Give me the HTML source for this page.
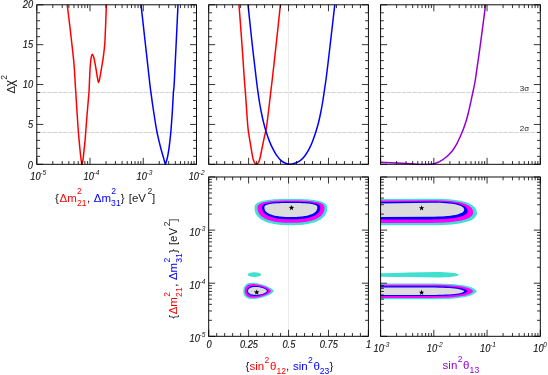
<!DOCTYPE html>
<html><head><meta charset="utf-8"><title>chart</title>
<style>
html,body{margin:0;padding:0;background:#fff;}
body{width:548px;height:375px;overflow:hidden;}
svg{display:block;will-change:transform;font-family:"Liberation Sans",sans-serif;}
.f{fill:none;stroke:#000;stroke-width:0.95;}
.t{stroke:#000;stroke-width:0.8;}
.s{stroke:#cfcfcf;stroke-width:0.9;stroke-dasharray:4.4 0.7 4.4 1.2;}
.v{stroke:#ebebeb;stroke-width:1;}
.l{font-size:9.3px;font-style:italic;fill:#111;stroke:#111;stroke-width:0.1;}
.e{font-size:6.6px;font-style:italic;fill:#111;}
.g{font-size:8px;fill:#222;}
</style></head><body>
<svg width="548" height="375" viewBox="0 0 548 375">
<defs><clipPath id="cT"><rect x="0" y="4.8" width="548" height="160.4"/></clipPath></defs>
<rect width="548" height="375" fill="#fff"/>
<line class="s" x1="36.80" y1="92.50" x2="196.50" y2="92.50"/>
<line class="s" x1="36.80" y1="132.50" x2="196.50" y2="132.50"/>
<line class="s" x1="208.70" y1="92.50" x2="368.40" y2="92.50"/>
<line class="s" x1="208.70" y1="132.50" x2="368.40" y2="132.50"/>
<line class="s" x1="380.60" y1="92.50" x2="540.30" y2="92.50"/>
<line class="s" x1="380.60" y1="132.50" x2="540.30" y2="132.50"/>
<line class="v" x1="288.50" y1="4.80" x2="288.50" y2="164.30"/>
<line class="v" x1="288.50" y1="177.00" x2="288.50" y2="336.30"/>
<path d="M254.60 207.80L254.64 206.80L254.75 206.13L254.93 205.55L255.19 205.02L255.52 204.53L255.92 204.07L256.40 203.64L256.95 203.23L257.57 202.84L258.26 202.47L259.03 202.13L259.87 201.80L260.78 201.48L261.76 201.19L262.81 200.92L263.93 200.66L265.13 200.42L266.40 200.19L267.74 199.99L269.16 199.80L270.65 199.63L272.23 199.48L273.90 199.34L275.66 199.22L277.53 199.13L279.53 199.04L281.68 198.98L284.05 198.94L286.77 198.91L290.85 198.90L294.93 198.91L297.65 198.94L300.02 198.98L302.17 199.04L304.17 199.13L306.04 199.22L307.80 199.34L309.47 199.48L311.05 199.63L312.54 199.80L313.96 199.99L315.30 200.19L316.57 200.42L317.77 200.66L318.89 200.92L319.94 201.19L320.92 201.48L321.83 201.80L322.67 202.13L323.44 202.47L324.13 202.84L324.75 203.23L325.30 203.64L325.78 204.07L326.18 204.53L326.51 205.02L326.77 205.55L326.95 206.13L327.06 206.80L327.10 207.80L327.06 209.29L326.93 210.45L326.73 211.51L326.44 212.50L326.07 213.44L325.62 214.34L325.08 215.20L324.47 216.02L323.78 216.81L323.01 217.57L322.16 218.29L321.23 218.97L320.23 219.63L319.16 220.25L318.01 220.84L316.79 221.39L315.49 221.90L314.13 222.38L312.70 222.83L311.19 223.23L309.62 223.60L307.98 223.94L306.26 224.23L304.47 224.49L302.60 224.70L300.64 224.88L298.58 225.02L296.37 225.12L293.95 225.18L290.85 225.20L287.75 225.18L285.33 225.12L283.12 225.02L281.06 224.88L279.10 224.70L277.23 224.49L275.44 224.23L273.72 223.94L272.08 223.60L270.51 223.23L269.00 222.83L267.57 222.38L266.21 221.90L264.91 221.39L263.69 220.84L262.54 220.25L261.47 219.63L260.47 218.97L259.54 218.29L258.69 217.57L257.92 216.81L257.23 216.02L256.62 215.20L256.08 214.34L255.63 213.44L255.26 212.50L254.97 211.51L254.77 210.45L254.64 209.29Z" fill="#40e0d0" />
<path d="M257.50 207.60L257.53 206.80L257.64 206.27L257.81 205.80L258.04 205.38L258.35 204.99L258.72 204.63L259.16 204.28L259.67 203.95L260.24 203.64L260.88 203.35L261.59 203.07L262.36 202.81L263.20 202.56L264.10 202.33L265.07 202.11L266.11 201.90L267.21 201.71L268.38 201.53L269.62 201.37L270.93 201.22L272.31 201.08L273.77 200.96L275.31 200.85L276.93 200.76L278.66 200.68L280.50 200.62L282.49 200.56L284.67 200.53L287.19 200.51L290.95 200.50L294.71 200.51L297.23 200.53L299.41 200.56L301.40 200.62L303.24 200.68L304.97 200.76L306.59 200.85L308.13 200.96L309.59 201.08L310.97 201.22L312.28 201.37L313.52 201.53L314.69 201.71L315.79 201.90L316.83 202.11L317.80 202.33L318.70 202.56L319.54 202.81L320.31 203.07L321.02 203.35L321.66 203.64L322.23 203.95L322.74 204.28L323.18 204.63L323.55 204.99L323.86 205.38L324.09 205.80L324.26 206.27L324.37 206.80L324.40 207.60L324.36 208.90L324.25 209.91L324.06 210.84L323.79 211.71L323.45 212.53L323.03 213.31L322.54 214.06L321.97 214.78L321.33 215.47L320.62 216.13L319.84 216.76L318.98 217.36L318.06 217.93L317.07 218.48L316.01 218.99L314.88 219.47L313.69 219.92L312.43 220.34L311.11 220.73L309.72 221.08L308.27 221.41L306.76 221.70L305.17 221.95L303.52 222.18L301.79 222.37L299.99 222.52L298.08 222.64L296.04 222.73L293.81 222.78L290.95 222.80L288.09 222.78L285.86 222.73L283.82 222.64L281.91 222.52L280.11 222.37L278.38 222.18L276.73 221.95L275.14 221.70L273.63 221.41L272.18 221.08L270.79 220.73L269.47 220.34L268.21 219.92L267.02 219.47L265.89 218.99L264.83 218.48L263.84 217.93L262.92 217.36L262.06 216.76L261.28 216.13L260.57 215.47L259.93 214.78L259.36 214.06L258.87 213.31L258.45 212.53L258.11 211.71L257.84 210.84L257.65 209.91L257.54 208.90Z" fill="#ff00ff" />
<path d="M262.00 207.40L262.03 206.77L262.12 206.35L262.27 205.98L262.47 205.65L262.74 205.34L263.06 205.05L263.44 204.78L263.89 204.52L264.38 204.28L264.94 204.05L265.56 203.83L266.23 203.62L266.96 203.43L267.74 203.24L268.59 203.07L269.49 202.91L270.45 202.75L271.47 202.61L272.55 202.48L273.69 202.37L274.89 202.26L276.16 202.16L277.49 202.08L278.91 202.00L280.41 201.94L282.01 201.89L283.74 201.85L285.64 201.82L287.83 201.81L291.10 201.80L294.37 201.81L296.56 201.82L298.46 201.85L300.19 201.89L301.79 201.94L303.29 202.00L304.71 202.08L306.04 202.16L307.31 202.26L308.51 202.37L309.65 202.48L310.73 202.61L311.75 202.75L312.71 202.91L313.61 203.07L314.46 203.24L315.24 203.43L315.97 203.62L316.64 203.83L317.26 204.05L317.82 204.28L318.31 204.52L318.76 204.78L319.14 205.05L319.46 205.34L319.73 205.65L319.93 205.98L320.08 206.35L320.17 206.77L320.20 207.40L320.17 208.42L320.07 209.21L319.90 209.94L319.67 210.61L319.37 211.26L319.01 211.87L318.58 212.46L318.09 213.02L317.53 213.56L316.91 214.08L316.23 214.57L315.49 215.04L314.69 215.49L313.82 215.91L312.90 216.31L311.92 216.69L310.88 217.04L309.79 217.37L308.64 217.68L307.43 217.96L306.17 218.21L304.85 218.44L303.47 218.64L302.04 218.81L300.53 218.96L298.96 219.08L297.30 219.18L295.53 219.25L293.59 219.29L291.10 219.30L288.61 219.29L286.67 219.25L284.90 219.18L283.24 219.08L281.67 218.96L280.16 218.81L278.73 218.64L277.35 218.44L276.03 218.21L274.77 217.96L273.56 217.68L272.41 217.37L271.32 217.04L270.28 216.69L269.30 216.31L268.38 215.91L267.51 215.49L266.71 215.04L265.97 214.57L265.29 214.08L264.67 213.56L264.11 213.02L263.62 212.46L263.19 211.87L262.83 211.26L262.53 210.61L262.30 209.94L262.13 209.21L262.03 208.42Z" fill="#0000ff" />
<path d="M264.40 207.30L264.43 206.82L264.51 206.49L264.64 206.21L264.83 205.96L265.07 205.72L265.37 205.50L265.71 205.29L266.11 205.09L266.57 204.90L267.07 204.73L267.63 204.56L268.24 204.40L268.91 204.25L269.62 204.11L270.39 203.97L271.21 203.85L272.08 203.73L273.01 203.62L273.99 203.53L275.02 203.43L276.11 203.35L277.27 203.28L278.48 203.21L279.77 203.16L281.13 203.11L282.59 203.07L284.16 203.04L285.88 203.02L287.88 203.00L290.85 203.00L293.82 203.00L295.82 203.02L297.54 203.04L299.11 203.07L300.57 203.11L301.93 203.16L303.22 203.21L304.43 203.28L305.59 203.35L306.68 203.43L307.71 203.53L308.69 203.62L309.62 203.73L310.49 203.85L311.31 203.97L312.08 204.11L312.79 204.25L313.46 204.40L314.07 204.56L314.63 204.73L315.13 204.90L315.59 205.09L315.99 205.29L316.33 205.50L316.63 205.72L316.87 205.96L317.06 206.21L317.19 206.49L317.27 206.82L317.30 207.30L317.27 208.13L317.18 208.78L317.03 209.37L316.82 209.92L316.55 210.44L316.22 210.95L315.83 211.42L315.38 211.88L314.87 212.32L314.31 212.74L313.69 213.15L313.02 213.53L312.29 213.89L311.50 214.24L310.67 214.57L309.77 214.87L308.83 215.16L307.84 215.43L306.79 215.68L305.69 215.90L304.55 216.11L303.35 216.30L302.10 216.46L300.79 216.60L299.43 216.72L297.99 216.82L296.49 216.90L294.88 216.96L293.11 216.99L290.85 217.00L288.59 216.99L286.82 216.96L285.21 216.90L283.71 216.82L282.27 216.72L280.91 216.60L279.60 216.46L278.35 216.30L277.15 216.11L276.01 215.90L274.91 215.68L273.86 215.43L272.87 215.16L271.93 214.87L271.03 214.57L270.20 214.24L269.41 213.89L268.68 213.53L268.01 213.15L267.39 212.74L266.83 212.32L266.32 211.88L265.87 211.42L265.48 210.95L265.15 210.44L264.88 209.92L264.67 209.37L264.52 208.78L264.43 208.13Z" fill="#dcdcdc" />
<path d="M274.0 291.0 C270.5 286.49 260.95 282.8 251.5 282.8 C246.51999999999998 282.8 243.2 286.08 243.2 291.0 C243.2 295.86 246.51999999999998 299.1 251.5 299.1 C260.95 299.1 270.5 295.45500000000004 274.0 291.0Z" fill="#40e0d0" />
<path d="M271.4 291.0 C268.9 287.205 261.005 284.1 252.5 284.1 C247.88 284.1 244.8 286.86 244.8 291.0 C244.8 295.02 247.88 297.7 252.5 297.7 C261.005 297.7 268.9 294.685 271.4 291.0Z" fill="#ff00ff" />
<path d="M268.3 291.1 C266.8 288.35 261.15 286.1 254.0 286.1 C249.68 286.1 246.8 288.1 246.8 291.1 C246.8 294.04 249.68 296.0 254.0 296.0 C261.15 296.0 266.8 293.795 268.3 291.1Z" fill="#0000ff" />
<path d="M267.0 291.1 C266.2 288.90000000000003 261.24 287.1 255.0 287.1 C250.8 287.1 248.0 288.70000000000005 248.0 291.1 C248.0 293.38 250.8 294.9 255.0 294.9 C261.24 294.9 266.2 293.19 267.0 291.1Z" fill="#dcdcdc" />
<ellipse cx="254.4" cy="274.6" rx="6.7" ry="2.3" fill="#40e0d0"/>
<path d="M380.6 199.0 L435.0 198.7 C462.72 198.7 477.0 203.56199999999998 477.0 213.0 C477.0 221.052 462.04 225.2 433.0 225.2 L380.6 225.29Z" fill="#40e0d0" />
<path d="M380.6 200.6 L433.3 200.2 C459.7 200.2 473.3 204.314 473.3 212.3 C473.3 219.29600000000002 459.02000000000004 222.9 431.3 222.9 L380.6 223.02Z" fill="#ff00ff" />
<path d="M380.6 202.1 L431.6 201.6 C455.36 201.6 467.6 204.796 467.6 211.0 C467.6 216.544 454.68 219.4 429.6 219.4 L380.6 219.55Z" fill="#0000ff" />
<path d="M380.6 203.5 L432.2 202.7 C453.32 202.7 464.2 205.046 464.2 209.6 C464.2 214.352 452.64 216.8 430.2 216.8 L380.6 217.04000000000002Z" fill="#dcdcdc" />
<path d="M380.6 273.3 C400 273.0 418 272.0 436 272.0 C448 272.0 457.5 273.0 459.0 274.7 C457.5 276.5 448 277.5 436 277.5 C418 277.5 400 276.9 380.6 276.8Z" fill="#40e0d0" />
<path d="M380.6 283.5 L430.9 283.5 C462.17999999999995 283.5 473.67999999999995 286.464 476.9 291.3 C473.67999999999995 296.26 462.17999999999995 299.3 430.9 299.3 L380.6 299.3Z" fill="#40e0d0" />
<path d="M380.6 284.8 L430.2 284.8 C459.44 284.8 470.62 287.27000000000004 473.2 291.3 C470.62 295.392 459.44 297.9 430.2 297.9 L380.6 297.9Z" fill="#ff00ff" />
<path d="M380.6 286.2 L427.7 286.2 C454.9 286.2 465.7 288.138 467.7 291.3 C465.7 294.276 454.9 296.1 427.7 296.1 L380.6 296.1Z" fill="#0000ff" />
<path d="M380.6 287.4 L426.3 287.4 C452.14 287.4 462.78000000000003 288.882 464.3 291.3 C462.78000000000003 293.594 452.14 295.0 426.3 295.0 L380.6 295.0Z" fill="#dcdcdc" />
<polygon points="291.50,204.90 292.18,206.87 294.26,206.90 292.59,208.16 293.20,210.15 291.50,208.95 289.80,210.15 290.41,208.16 288.74,206.90 290.82,206.87" fill="#000"/>
<polygon points="256.70,289.40 257.38,291.37 259.46,291.40 257.79,292.66 258.40,294.65 256.70,293.45 255.00,294.65 255.61,292.66 253.94,291.40 256.02,291.37" fill="#000"/>
<polygon points="421.60,205.30 422.28,207.27 424.36,207.30 422.69,208.56 423.30,210.55 421.60,209.35 419.90,210.55 420.51,208.56 418.84,207.30 420.92,207.27" fill="#000"/>
<polygon points="421.60,289.70 422.28,291.67 424.36,291.70 422.69,292.96 423.30,294.95 421.60,293.75 419.90,294.95 420.51,292.96 418.84,291.70 420.92,291.67" fill="#000"/>
<g clip-path="url(#cT)">
<path d="M66.70 0.50C66.78 1.20 66.70 0.62 67.20 4.70C67.70 8.78 68.90 18.28 69.70 25.00C70.50 31.72 71.28 38.50 72.00 45.00C72.72 51.50 73.45 57.33 74.00 64.00C74.55 70.67 75.00 80.28 75.30 85.00C75.60 89.72 75.52 87.85 75.80 92.30C76.08 96.75 76.58 105.25 77.00 111.70C77.42 118.15 77.95 126.27 78.30 131.00C78.65 135.73 78.81 136.88 79.10 140.10C79.39 143.32 79.74 147.25 80.05 150.30C80.36 153.35 80.69 156.35 80.95 158.40C81.21 160.45 81.42 161.53 81.60 162.60C81.77 163.67 81.87 164.80 82.00 164.80C82.13 164.80 82.21 163.67 82.40 162.60C82.59 161.53 82.88 160.45 83.15 158.40C83.43 156.35 83.72 153.35 84.05 150.30C84.38 147.25 84.81 143.32 85.10 140.10C85.39 136.88 85.43 135.73 85.80 131.00C86.17 126.27 86.77 118.15 87.30 111.70C87.83 105.25 88.65 97.08 89.00 92.30C89.35 87.52 89.23 86.72 89.40 83.00C89.57 79.28 89.80 73.50 90.00 70.00C90.20 66.50 90.38 64.20 90.60 62.00C90.82 59.80 91.00 58.08 91.30 56.80C91.60 55.52 92.02 54.30 92.40 54.30C92.78 54.30 93.25 55.75 93.60 56.80C93.95 57.85 94.07 58.40 94.50 60.60C94.93 62.80 95.71 67.13 96.20 70.00C96.69 72.87 97.05 75.73 97.45 77.80C97.85 79.87 98.21 82.33 98.60 82.40C98.99 82.47 99.33 80.47 99.80 78.20C100.27 75.93 100.87 71.97 101.40 68.80C101.93 65.63 102.53 62.40 103.00 59.20C103.47 56.00 103.87 52.80 104.20 49.60C104.53 46.40 104.63 47.48 105.00 40.00C105.37 32.52 106.13 11.28 106.40 4.70C106.67 -1.88 106.57 1.20 106.60 0.50" fill="none" stroke="#ff0000" stroke-width="1.5" stroke-linejoin="round"/>
<path d="M140.50 0.50C140.58 1.20 140.17 -2.72 141.00 4.70C141.83 12.12 144.10 32.45 145.50 45.00C146.90 57.55 148.50 72.10 149.40 80.00C150.30 87.90 150.18 87.07 150.90 92.40C151.62 97.73 152.75 105.73 153.70 112.00C154.65 118.27 155.75 125.32 156.60 130.00C157.45 134.68 158.01 136.72 158.80 140.10C159.59 143.48 160.53 147.25 161.35 150.30C162.17 153.35 163.12 156.35 163.70 158.40C164.27 160.45 164.52 161.60 164.80 162.60C165.08 163.60 165.20 164.40 165.40 164.40C165.60 164.40 165.70 163.60 166.00 162.60C166.30 161.60 166.75 160.45 167.20 158.40C167.65 156.35 168.23 153.35 168.70 150.30C169.17 147.25 169.62 143.48 170.00 140.10C170.38 136.72 170.62 134.68 171.00 130.00C171.38 125.32 171.90 118.27 172.30 112.00C172.70 105.73 173.05 97.73 173.40 92.40C173.75 87.07 173.63 94.62 174.40 80.00C175.17 65.38 177.37 17.95 178.00 4.70C178.63 -8.55 178.17 1.20 178.20 0.50" fill="none" stroke="#0000ff" stroke-width="1.5" stroke-linejoin="round"/>
<path d="M238.70 0.50C238.75 1.20 238.45 -2.72 239.00 4.70C239.55 12.12 241.10 32.45 242.00 45.00C242.90 57.55 243.83 72.10 244.40 80.00C244.97 87.90 244.85 84.90 245.40 92.40C245.95 99.90 247.08 117.75 247.70 125.00C248.32 132.25 248.57 132.25 249.10 135.90C249.63 139.55 250.28 143.25 250.90 146.90C251.52 150.55 252.22 155.23 252.80 157.80C253.38 160.37 253.80 161.20 254.40 162.30C255.00 163.40 255.72 164.40 256.40 164.40C257.08 164.40 257.88 163.40 258.50 162.30C259.12 161.20 259.47 160.37 260.10 157.80C260.73 155.23 261.55 150.55 262.30 146.90C263.05 143.25 263.85 139.55 264.60 135.90C265.35 132.25 265.78 132.25 266.80 125.00C267.82 117.75 269.80 99.90 270.70 92.40C271.60 84.90 271.30 87.90 272.20 80.00C273.10 72.10 274.73 57.55 276.10 45.00C277.47 32.45 279.60 12.12 280.40 4.70C281.20 -2.72 280.82 1.20 280.90 0.50" fill="none" stroke="#ff0000" stroke-width="1.5" stroke-linejoin="round"/>
<path d="M247.50 0.50C247.58 1.20 247.20 -2.72 248.00 4.70C248.80 12.12 250.90 32.45 252.30 45.00C253.70 57.55 255.45 72.10 256.40 80.00C257.35 87.90 257.49 88.73 258.00 92.40C258.51 96.07 258.91 98.73 259.45 102.00C259.99 105.27 260.58 108.67 261.25 112.00C261.92 115.33 262.62 118.67 263.45 122.00C264.27 125.33 265.19 128.77 266.20 132.00C267.21 135.23 268.40 138.62 269.50 141.40C270.60 144.18 271.63 146.42 272.80 148.70C273.97 150.98 275.12 153.12 276.50 155.10C277.88 157.08 279.58 159.23 281.10 160.60C282.62 161.97 284.18 162.70 285.60 163.30C287.02 163.90 288.08 164.20 289.60 164.20C291.12 164.20 292.93 163.90 294.70 163.30C296.47 162.70 298.52 161.82 300.20 160.60C301.88 159.38 303.28 157.98 304.80 156.00C306.32 154.02 308.02 151.13 309.30 148.70C310.58 146.27 311.42 144.18 312.50 141.40C313.58 138.62 314.78 135.23 315.80 132.00C316.82 128.77 317.81 125.33 318.65 122.00C319.49 118.67 320.18 115.33 320.85 112.00C321.52 108.67 322.11 105.27 322.65 102.00C323.19 98.73 323.51 96.40 324.10 92.40C324.69 88.40 325.48 83.40 326.20 78.00C326.92 72.60 326.97 72.22 328.40 60.00C329.83 47.78 333.65 14.62 334.80 4.70C335.95 -5.22 335.22 1.20 335.30 0.50" fill="none" stroke="#0000ff" stroke-width="1.5" stroke-linejoin="round"/>
<path d="M380.50 162.30C383.22 162.42 391.68 162.75 396.80 163.00C401.92 163.25 407.00 163.55 411.20 163.80C415.40 164.05 419.20 164.38 422.00 164.50C424.80 164.62 426.00 164.63 428.00 164.50C430.00 164.37 432.00 164.23 434.00 163.70C436.00 163.17 438.00 162.38 440.00 161.30C442.00 160.22 444.00 158.88 446.00 157.20C448.00 155.52 450.20 153.43 452.00 151.20C453.80 148.97 455.38 146.33 456.80 143.80C458.22 141.27 459.37 138.55 460.50 136.00C461.63 133.45 462.65 131.03 463.60 128.50C464.55 125.97 465.42 123.38 466.20 120.80C466.98 118.22 467.65 115.60 468.30 113.00C468.95 110.40 469.33 108.70 470.10 105.20C470.87 101.70 472.03 96.20 472.90 92.00C473.77 87.80 474.07 87.83 475.30 80.00C476.53 72.17 478.58 57.55 480.30 45.00C482.02 32.45 484.63 12.12 485.60 4.70C486.57 -2.72 486.02 1.20 486.10 0.50" fill="none" stroke="#9400d3" stroke-width="1.5" stroke-linejoin="round"/>
</g>
<rect class="f" x="36.80" y="4.80" width="159.70" height="159.50"/>
<rect class="f" x="208.70" y="4.80" width="159.70" height="159.50"/>
<rect class="f" x="380.60" y="4.80" width="159.70" height="159.50"/>
<rect class="f" x="208.70" y="177.00" width="159.70" height="159.30"/>
<rect class="f" x="380.60" y="177.00" width="159.70" height="159.30"/>
<line class="t" x1="36.80" y1="164.30" x2="36.80" y2="157.80"/>
<line class="t" x1="36.80" y1="4.80" x2="36.80" y2="11.30"/>
<line class="t" x1="52.82" y1="164.30" x2="52.82" y2="161.00"/>
<line class="t" x1="52.82" y1="4.80" x2="52.82" y2="8.10"/>
<line class="t" x1="62.20" y1="164.30" x2="62.20" y2="161.00"/>
<line class="t" x1="62.20" y1="4.80" x2="62.20" y2="8.10"/>
<line class="t" x1="68.85" y1="164.30" x2="68.85" y2="161.00"/>
<line class="t" x1="68.85" y1="4.80" x2="68.85" y2="8.10"/>
<line class="t" x1="74.01" y1="164.30" x2="74.01" y2="161.00"/>
<line class="t" x1="74.01" y1="4.80" x2="74.01" y2="8.10"/>
<line class="t" x1="78.22" y1="164.30" x2="78.22" y2="161.00"/>
<line class="t" x1="78.22" y1="4.80" x2="78.22" y2="8.10"/>
<line class="t" x1="81.79" y1="164.30" x2="81.79" y2="161.00"/>
<line class="t" x1="81.79" y1="4.80" x2="81.79" y2="8.10"/>
<line class="t" x1="84.87" y1="164.30" x2="84.87" y2="161.00"/>
<line class="t" x1="84.87" y1="4.80" x2="84.87" y2="8.10"/>
<line class="t" x1="87.60" y1="164.30" x2="87.60" y2="161.00"/>
<line class="t" x1="87.60" y1="4.80" x2="87.60" y2="8.10"/>
<line class="t" x1="90.03" y1="164.30" x2="90.03" y2="157.80"/>
<line class="t" x1="90.03" y1="4.80" x2="90.03" y2="11.30"/>
<line class="t" x1="106.06" y1="164.30" x2="106.06" y2="161.00"/>
<line class="t" x1="106.06" y1="4.80" x2="106.06" y2="8.10"/>
<line class="t" x1="115.43" y1="164.30" x2="115.43" y2="161.00"/>
<line class="t" x1="115.43" y1="4.80" x2="115.43" y2="8.10"/>
<line class="t" x1="122.08" y1="164.30" x2="122.08" y2="161.00"/>
<line class="t" x1="122.08" y1="4.80" x2="122.08" y2="8.10"/>
<line class="t" x1="127.24" y1="164.30" x2="127.24" y2="161.00"/>
<line class="t" x1="127.24" y1="4.80" x2="127.24" y2="8.10"/>
<line class="t" x1="131.46" y1="164.30" x2="131.46" y2="161.00"/>
<line class="t" x1="131.46" y1="4.80" x2="131.46" y2="8.10"/>
<line class="t" x1="135.02" y1="164.30" x2="135.02" y2="161.00"/>
<line class="t" x1="135.02" y1="4.80" x2="135.02" y2="8.10"/>
<line class="t" x1="138.11" y1="164.30" x2="138.11" y2="161.00"/>
<line class="t" x1="138.11" y1="4.80" x2="138.11" y2="8.10"/>
<line class="t" x1="140.83" y1="164.30" x2="140.83" y2="161.00"/>
<line class="t" x1="140.83" y1="4.80" x2="140.83" y2="8.10"/>
<line class="t" x1="143.27" y1="164.30" x2="143.27" y2="157.80"/>
<line class="t" x1="143.27" y1="4.80" x2="143.27" y2="11.30"/>
<line class="t" x1="159.29" y1="164.30" x2="159.29" y2="161.00"/>
<line class="t" x1="159.29" y1="4.80" x2="159.29" y2="8.10"/>
<line class="t" x1="168.67" y1="164.30" x2="168.67" y2="161.00"/>
<line class="t" x1="168.67" y1="4.80" x2="168.67" y2="8.10"/>
<line class="t" x1="175.32" y1="164.30" x2="175.32" y2="161.00"/>
<line class="t" x1="175.32" y1="4.80" x2="175.32" y2="8.10"/>
<line class="t" x1="180.48" y1="164.30" x2="180.48" y2="161.00"/>
<line class="t" x1="180.48" y1="4.80" x2="180.48" y2="8.10"/>
<line class="t" x1="184.69" y1="164.30" x2="184.69" y2="161.00"/>
<line class="t" x1="184.69" y1="4.80" x2="184.69" y2="8.10"/>
<line class="t" x1="188.25" y1="164.30" x2="188.25" y2="161.00"/>
<line class="t" x1="188.25" y1="4.80" x2="188.25" y2="8.10"/>
<line class="t" x1="191.34" y1="164.30" x2="191.34" y2="161.00"/>
<line class="t" x1="191.34" y1="4.80" x2="191.34" y2="8.10"/>
<line class="t" x1="194.06" y1="164.30" x2="194.06" y2="161.00"/>
<line class="t" x1="194.06" y1="4.80" x2="194.06" y2="8.10"/>
<line class="t" x1="196.50" y1="164.30" x2="196.50" y2="157.80"/>
<line class="t" x1="196.50" y1="4.80" x2="196.50" y2="11.30"/>
<line class="t" x1="36.80" y1="164.30" x2="43.30" y2="164.30"/>
<line class="t" x1="196.50" y1="164.30" x2="190.00" y2="164.30"/>
<line class="t" x1="36.80" y1="156.33" x2="40.10" y2="156.33"/>
<line class="t" x1="196.50" y1="156.33" x2="193.20" y2="156.33"/>
<line class="t" x1="36.80" y1="148.35" x2="40.10" y2="148.35"/>
<line class="t" x1="196.50" y1="148.35" x2="193.20" y2="148.35"/>
<line class="t" x1="36.80" y1="140.38" x2="40.10" y2="140.38"/>
<line class="t" x1="196.50" y1="140.38" x2="193.20" y2="140.38"/>
<line class="t" x1="36.80" y1="132.40" x2="40.10" y2="132.40"/>
<line class="t" x1="196.50" y1="132.40" x2="193.20" y2="132.40"/>
<line class="t" x1="36.80" y1="124.43" x2="43.30" y2="124.43"/>
<line class="t" x1="196.50" y1="124.43" x2="190.00" y2="124.43"/>
<line class="t" x1="36.80" y1="116.45" x2="40.10" y2="116.45"/>
<line class="t" x1="196.50" y1="116.45" x2="193.20" y2="116.45"/>
<line class="t" x1="36.80" y1="108.48" x2="40.10" y2="108.48"/>
<line class="t" x1="196.50" y1="108.48" x2="193.20" y2="108.48"/>
<line class="t" x1="36.80" y1="100.50" x2="40.10" y2="100.50"/>
<line class="t" x1="196.50" y1="100.50" x2="193.20" y2="100.50"/>
<line class="t" x1="36.80" y1="92.53" x2="40.10" y2="92.53"/>
<line class="t" x1="196.50" y1="92.53" x2="193.20" y2="92.53"/>
<line class="t" x1="36.80" y1="84.55" x2="43.30" y2="84.55"/>
<line class="t" x1="196.50" y1="84.55" x2="190.00" y2="84.55"/>
<line class="t" x1="36.80" y1="76.58" x2="40.10" y2="76.58"/>
<line class="t" x1="196.50" y1="76.58" x2="193.20" y2="76.58"/>
<line class="t" x1="36.80" y1="68.60" x2="40.10" y2="68.60"/>
<line class="t" x1="196.50" y1="68.60" x2="193.20" y2="68.60"/>
<line class="t" x1="36.80" y1="60.63" x2="40.10" y2="60.63"/>
<line class="t" x1="196.50" y1="60.63" x2="193.20" y2="60.63"/>
<line class="t" x1="36.80" y1="52.65" x2="40.10" y2="52.65"/>
<line class="t" x1="196.50" y1="52.65" x2="193.20" y2="52.65"/>
<line class="t" x1="36.80" y1="44.68" x2="43.30" y2="44.68"/>
<line class="t" x1="196.50" y1="44.68" x2="190.00" y2="44.68"/>
<line class="t" x1="36.80" y1="36.70" x2="40.10" y2="36.70"/>
<line class="t" x1="196.50" y1="36.70" x2="193.20" y2="36.70"/>
<line class="t" x1="36.80" y1="28.73" x2="40.10" y2="28.73"/>
<line class="t" x1="196.50" y1="28.73" x2="193.20" y2="28.73"/>
<line class="t" x1="36.80" y1="20.75" x2="40.10" y2="20.75"/>
<line class="t" x1="196.50" y1="20.75" x2="193.20" y2="20.75"/>
<line class="t" x1="36.80" y1="12.78" x2="40.10" y2="12.78"/>
<line class="t" x1="196.50" y1="12.78" x2="193.20" y2="12.78"/>
<line class="t" x1="36.80" y1="4.80" x2="43.30" y2="4.80"/>
<line class="t" x1="196.50" y1="4.80" x2="190.00" y2="4.80"/>
<line class="t" x1="208.70" y1="164.30" x2="208.70" y2="157.80"/>
<line class="t" x1="208.70" y1="4.80" x2="208.70" y2="11.30"/>
<line class="t" x1="216.69" y1="164.30" x2="216.69" y2="161.00"/>
<line class="t" x1="216.69" y1="4.80" x2="216.69" y2="8.10"/>
<line class="t" x1="224.67" y1="164.30" x2="224.67" y2="161.00"/>
<line class="t" x1="224.67" y1="4.80" x2="224.67" y2="8.10"/>
<line class="t" x1="232.65" y1="164.30" x2="232.65" y2="161.00"/>
<line class="t" x1="232.65" y1="4.80" x2="232.65" y2="8.10"/>
<line class="t" x1="240.64" y1="164.30" x2="240.64" y2="161.00"/>
<line class="t" x1="240.64" y1="4.80" x2="240.64" y2="8.10"/>
<line class="t" x1="248.62" y1="164.30" x2="248.62" y2="157.80"/>
<line class="t" x1="248.62" y1="4.80" x2="248.62" y2="11.30"/>
<line class="t" x1="256.61" y1="164.30" x2="256.61" y2="161.00"/>
<line class="t" x1="256.61" y1="4.80" x2="256.61" y2="8.10"/>
<line class="t" x1="264.59" y1="164.30" x2="264.59" y2="161.00"/>
<line class="t" x1="264.59" y1="4.80" x2="264.59" y2="8.10"/>
<line class="t" x1="272.58" y1="164.30" x2="272.58" y2="161.00"/>
<line class="t" x1="272.58" y1="4.80" x2="272.58" y2="8.10"/>
<line class="t" x1="280.56" y1="164.30" x2="280.56" y2="161.00"/>
<line class="t" x1="280.56" y1="4.80" x2="280.56" y2="8.10"/>
<line class="t" x1="288.55" y1="164.30" x2="288.55" y2="157.80"/>
<line class="t" x1="288.55" y1="4.80" x2="288.55" y2="11.30"/>
<line class="t" x1="296.53" y1="164.30" x2="296.53" y2="161.00"/>
<line class="t" x1="296.53" y1="4.80" x2="296.53" y2="8.10"/>
<line class="t" x1="304.52" y1="164.30" x2="304.52" y2="161.00"/>
<line class="t" x1="304.52" y1="4.80" x2="304.52" y2="8.10"/>
<line class="t" x1="312.50" y1="164.30" x2="312.50" y2="161.00"/>
<line class="t" x1="312.50" y1="4.80" x2="312.50" y2="8.10"/>
<line class="t" x1="320.49" y1="164.30" x2="320.49" y2="161.00"/>
<line class="t" x1="320.49" y1="4.80" x2="320.49" y2="8.10"/>
<line class="t" x1="328.47" y1="164.30" x2="328.47" y2="157.80"/>
<line class="t" x1="328.47" y1="4.80" x2="328.47" y2="11.30"/>
<line class="t" x1="336.46" y1="164.30" x2="336.46" y2="161.00"/>
<line class="t" x1="336.46" y1="4.80" x2="336.46" y2="8.10"/>
<line class="t" x1="344.44" y1="164.30" x2="344.44" y2="161.00"/>
<line class="t" x1="344.44" y1="4.80" x2="344.44" y2="8.10"/>
<line class="t" x1="352.43" y1="164.30" x2="352.43" y2="161.00"/>
<line class="t" x1="352.43" y1="4.80" x2="352.43" y2="8.10"/>
<line class="t" x1="360.41" y1="164.30" x2="360.41" y2="161.00"/>
<line class="t" x1="360.41" y1="4.80" x2="360.41" y2="8.10"/>
<line class="t" x1="368.40" y1="164.30" x2="368.40" y2="157.80"/>
<line class="t" x1="368.40" y1="4.80" x2="368.40" y2="11.30"/>
<line class="t" x1="208.70" y1="164.30" x2="215.20" y2="164.30"/>
<line class="t" x1="368.40" y1="164.30" x2="361.90" y2="164.30"/>
<line class="t" x1="208.70" y1="156.33" x2="212.00" y2="156.33"/>
<line class="t" x1="368.40" y1="156.33" x2="365.10" y2="156.33"/>
<line class="t" x1="208.70" y1="148.35" x2="212.00" y2="148.35"/>
<line class="t" x1="368.40" y1="148.35" x2="365.10" y2="148.35"/>
<line class="t" x1="208.70" y1="140.38" x2="212.00" y2="140.38"/>
<line class="t" x1="368.40" y1="140.38" x2="365.10" y2="140.38"/>
<line class="t" x1="208.70" y1="132.40" x2="212.00" y2="132.40"/>
<line class="t" x1="368.40" y1="132.40" x2="365.10" y2="132.40"/>
<line class="t" x1="208.70" y1="124.43" x2="215.20" y2="124.43"/>
<line class="t" x1="368.40" y1="124.43" x2="361.90" y2="124.43"/>
<line class="t" x1="208.70" y1="116.45" x2="212.00" y2="116.45"/>
<line class="t" x1="368.40" y1="116.45" x2="365.10" y2="116.45"/>
<line class="t" x1="208.70" y1="108.48" x2="212.00" y2="108.48"/>
<line class="t" x1="368.40" y1="108.48" x2="365.10" y2="108.48"/>
<line class="t" x1="208.70" y1="100.50" x2="212.00" y2="100.50"/>
<line class="t" x1="368.40" y1="100.50" x2="365.10" y2="100.50"/>
<line class="t" x1="208.70" y1="92.53" x2="212.00" y2="92.53"/>
<line class="t" x1="368.40" y1="92.53" x2="365.10" y2="92.53"/>
<line class="t" x1="208.70" y1="84.55" x2="215.20" y2="84.55"/>
<line class="t" x1="368.40" y1="84.55" x2="361.90" y2="84.55"/>
<line class="t" x1="208.70" y1="76.58" x2="212.00" y2="76.58"/>
<line class="t" x1="368.40" y1="76.58" x2="365.10" y2="76.58"/>
<line class="t" x1="208.70" y1="68.60" x2="212.00" y2="68.60"/>
<line class="t" x1="368.40" y1="68.60" x2="365.10" y2="68.60"/>
<line class="t" x1="208.70" y1="60.63" x2="212.00" y2="60.63"/>
<line class="t" x1="368.40" y1="60.63" x2="365.10" y2="60.63"/>
<line class="t" x1="208.70" y1="52.65" x2="212.00" y2="52.65"/>
<line class="t" x1="368.40" y1="52.65" x2="365.10" y2="52.65"/>
<line class="t" x1="208.70" y1="44.68" x2="215.20" y2="44.68"/>
<line class="t" x1="368.40" y1="44.68" x2="361.90" y2="44.68"/>
<line class="t" x1="208.70" y1="36.70" x2="212.00" y2="36.70"/>
<line class="t" x1="368.40" y1="36.70" x2="365.10" y2="36.70"/>
<line class="t" x1="208.70" y1="28.73" x2="212.00" y2="28.73"/>
<line class="t" x1="368.40" y1="28.73" x2="365.10" y2="28.73"/>
<line class="t" x1="208.70" y1="20.75" x2="212.00" y2="20.75"/>
<line class="t" x1="368.40" y1="20.75" x2="365.10" y2="20.75"/>
<line class="t" x1="208.70" y1="12.78" x2="212.00" y2="12.78"/>
<line class="t" x1="368.40" y1="12.78" x2="365.10" y2="12.78"/>
<line class="t" x1="208.70" y1="4.80" x2="215.20" y2="4.80"/>
<line class="t" x1="368.40" y1="4.80" x2="361.90" y2="4.80"/>
<line class="t" x1="380.60" y1="164.30" x2="380.60" y2="157.80"/>
<line class="t" x1="380.60" y1="4.80" x2="380.60" y2="11.30"/>
<line class="t" x1="396.62" y1="164.30" x2="396.62" y2="161.00"/>
<line class="t" x1="396.62" y1="4.80" x2="396.62" y2="8.10"/>
<line class="t" x1="406.00" y1="164.30" x2="406.00" y2="161.00"/>
<line class="t" x1="406.00" y1="4.80" x2="406.00" y2="8.10"/>
<line class="t" x1="412.65" y1="164.30" x2="412.65" y2="161.00"/>
<line class="t" x1="412.65" y1="4.80" x2="412.65" y2="8.10"/>
<line class="t" x1="417.81" y1="164.30" x2="417.81" y2="161.00"/>
<line class="t" x1="417.81" y1="4.80" x2="417.81" y2="8.10"/>
<line class="t" x1="422.02" y1="164.30" x2="422.02" y2="161.00"/>
<line class="t" x1="422.02" y1="4.80" x2="422.02" y2="8.10"/>
<line class="t" x1="425.59" y1="164.30" x2="425.59" y2="161.00"/>
<line class="t" x1="425.59" y1="4.80" x2="425.59" y2="8.10"/>
<line class="t" x1="428.67" y1="164.30" x2="428.67" y2="161.00"/>
<line class="t" x1="428.67" y1="4.80" x2="428.67" y2="8.10"/>
<line class="t" x1="431.40" y1="164.30" x2="431.40" y2="161.00"/>
<line class="t" x1="431.40" y1="4.80" x2="431.40" y2="8.10"/>
<line class="t" x1="433.83" y1="164.30" x2="433.83" y2="157.80"/>
<line class="t" x1="433.83" y1="4.80" x2="433.83" y2="11.30"/>
<line class="t" x1="449.86" y1="164.30" x2="449.86" y2="161.00"/>
<line class="t" x1="449.86" y1="4.80" x2="449.86" y2="8.10"/>
<line class="t" x1="459.23" y1="164.30" x2="459.23" y2="161.00"/>
<line class="t" x1="459.23" y1="4.80" x2="459.23" y2="8.10"/>
<line class="t" x1="465.88" y1="164.30" x2="465.88" y2="161.00"/>
<line class="t" x1="465.88" y1="4.80" x2="465.88" y2="8.10"/>
<line class="t" x1="471.04" y1="164.30" x2="471.04" y2="161.00"/>
<line class="t" x1="471.04" y1="4.80" x2="471.04" y2="8.10"/>
<line class="t" x1="475.26" y1="164.30" x2="475.26" y2="161.00"/>
<line class="t" x1="475.26" y1="4.80" x2="475.26" y2="8.10"/>
<line class="t" x1="478.82" y1="164.30" x2="478.82" y2="161.00"/>
<line class="t" x1="478.82" y1="4.80" x2="478.82" y2="8.10"/>
<line class="t" x1="481.91" y1="164.30" x2="481.91" y2="161.00"/>
<line class="t" x1="481.91" y1="4.80" x2="481.91" y2="8.10"/>
<line class="t" x1="484.63" y1="164.30" x2="484.63" y2="161.00"/>
<line class="t" x1="484.63" y1="4.80" x2="484.63" y2="8.10"/>
<line class="t" x1="487.07" y1="164.30" x2="487.07" y2="157.80"/>
<line class="t" x1="487.07" y1="4.80" x2="487.07" y2="11.30"/>
<line class="t" x1="503.09" y1="164.30" x2="503.09" y2="161.00"/>
<line class="t" x1="503.09" y1="4.80" x2="503.09" y2="8.10"/>
<line class="t" x1="512.47" y1="164.30" x2="512.47" y2="161.00"/>
<line class="t" x1="512.47" y1="4.80" x2="512.47" y2="8.10"/>
<line class="t" x1="519.12" y1="164.30" x2="519.12" y2="161.00"/>
<line class="t" x1="519.12" y1="4.80" x2="519.12" y2="8.10"/>
<line class="t" x1="524.28" y1="164.30" x2="524.28" y2="161.00"/>
<line class="t" x1="524.28" y1="4.80" x2="524.28" y2="8.10"/>
<line class="t" x1="528.49" y1="164.30" x2="528.49" y2="161.00"/>
<line class="t" x1="528.49" y1="4.80" x2="528.49" y2="8.10"/>
<line class="t" x1="532.05" y1="164.30" x2="532.05" y2="161.00"/>
<line class="t" x1="532.05" y1="4.80" x2="532.05" y2="8.10"/>
<line class="t" x1="535.14" y1="164.30" x2="535.14" y2="161.00"/>
<line class="t" x1="535.14" y1="4.80" x2="535.14" y2="8.10"/>
<line class="t" x1="537.86" y1="164.30" x2="537.86" y2="161.00"/>
<line class="t" x1="537.86" y1="4.80" x2="537.86" y2="8.10"/>
<line class="t" x1="540.30" y1="164.30" x2="540.30" y2="157.80"/>
<line class="t" x1="540.30" y1="4.80" x2="540.30" y2="11.30"/>
<line class="t" x1="380.60" y1="164.30" x2="387.10" y2="164.30"/>
<line class="t" x1="540.30" y1="164.30" x2="533.80" y2="164.30"/>
<line class="t" x1="380.60" y1="156.33" x2="383.90" y2="156.33"/>
<line class="t" x1="540.30" y1="156.33" x2="537.00" y2="156.33"/>
<line class="t" x1="380.60" y1="148.35" x2="383.90" y2="148.35"/>
<line class="t" x1="540.30" y1="148.35" x2="537.00" y2="148.35"/>
<line class="t" x1="380.60" y1="140.38" x2="383.90" y2="140.38"/>
<line class="t" x1="540.30" y1="140.38" x2="537.00" y2="140.38"/>
<line class="t" x1="380.60" y1="132.40" x2="383.90" y2="132.40"/>
<line class="t" x1="540.30" y1="132.40" x2="537.00" y2="132.40"/>
<line class="t" x1="380.60" y1="124.43" x2="387.10" y2="124.43"/>
<line class="t" x1="540.30" y1="124.43" x2="533.80" y2="124.43"/>
<line class="t" x1="380.60" y1="116.45" x2="383.90" y2="116.45"/>
<line class="t" x1="540.30" y1="116.45" x2="537.00" y2="116.45"/>
<line class="t" x1="380.60" y1="108.48" x2="383.90" y2="108.48"/>
<line class="t" x1="540.30" y1="108.48" x2="537.00" y2="108.48"/>
<line class="t" x1="380.60" y1="100.50" x2="383.90" y2="100.50"/>
<line class="t" x1="540.30" y1="100.50" x2="537.00" y2="100.50"/>
<line class="t" x1="380.60" y1="92.53" x2="383.90" y2="92.53"/>
<line class="t" x1="540.30" y1="92.53" x2="537.00" y2="92.53"/>
<line class="t" x1="380.60" y1="84.55" x2="387.10" y2="84.55"/>
<line class="t" x1="540.30" y1="84.55" x2="533.80" y2="84.55"/>
<line class="t" x1="380.60" y1="76.58" x2="383.90" y2="76.58"/>
<line class="t" x1="540.30" y1="76.58" x2="537.00" y2="76.58"/>
<line class="t" x1="380.60" y1="68.60" x2="383.90" y2="68.60"/>
<line class="t" x1="540.30" y1="68.60" x2="537.00" y2="68.60"/>
<line class="t" x1="380.60" y1="60.63" x2="383.90" y2="60.63"/>
<line class="t" x1="540.30" y1="60.63" x2="537.00" y2="60.63"/>
<line class="t" x1="380.60" y1="52.65" x2="383.90" y2="52.65"/>
<line class="t" x1="540.30" y1="52.65" x2="537.00" y2="52.65"/>
<line class="t" x1="380.60" y1="44.68" x2="387.10" y2="44.68"/>
<line class="t" x1="540.30" y1="44.68" x2="533.80" y2="44.68"/>
<line class="t" x1="380.60" y1="36.70" x2="383.90" y2="36.70"/>
<line class="t" x1="540.30" y1="36.70" x2="537.00" y2="36.70"/>
<line class="t" x1="380.60" y1="28.73" x2="383.90" y2="28.73"/>
<line class="t" x1="540.30" y1="28.73" x2="537.00" y2="28.73"/>
<line class="t" x1="380.60" y1="20.75" x2="383.90" y2="20.75"/>
<line class="t" x1="540.30" y1="20.75" x2="537.00" y2="20.75"/>
<line class="t" x1="380.60" y1="12.78" x2="383.90" y2="12.78"/>
<line class="t" x1="540.30" y1="12.78" x2="537.00" y2="12.78"/>
<line class="t" x1="380.60" y1="4.80" x2="387.10" y2="4.80"/>
<line class="t" x1="540.30" y1="4.80" x2="533.80" y2="4.80"/>
<line class="t" x1="208.70" y1="336.30" x2="208.70" y2="329.80"/>
<line class="t" x1="208.70" y1="177.00" x2="208.70" y2="183.50"/>
<line class="t" x1="216.69" y1="336.30" x2="216.69" y2="333.00"/>
<line class="t" x1="216.69" y1="177.00" x2="216.69" y2="180.30"/>
<line class="t" x1="224.67" y1="336.30" x2="224.67" y2="333.00"/>
<line class="t" x1="224.67" y1="177.00" x2="224.67" y2="180.30"/>
<line class="t" x1="232.65" y1="336.30" x2="232.65" y2="333.00"/>
<line class="t" x1="232.65" y1="177.00" x2="232.65" y2="180.30"/>
<line class="t" x1="240.64" y1="336.30" x2="240.64" y2="333.00"/>
<line class="t" x1="240.64" y1="177.00" x2="240.64" y2="180.30"/>
<line class="t" x1="248.62" y1="336.30" x2="248.62" y2="329.80"/>
<line class="t" x1="248.62" y1="177.00" x2="248.62" y2="183.50"/>
<line class="t" x1="256.61" y1="336.30" x2="256.61" y2="333.00"/>
<line class="t" x1="256.61" y1="177.00" x2="256.61" y2="180.30"/>
<line class="t" x1="264.59" y1="336.30" x2="264.59" y2="333.00"/>
<line class="t" x1="264.59" y1="177.00" x2="264.59" y2="180.30"/>
<line class="t" x1="272.58" y1="336.30" x2="272.58" y2="333.00"/>
<line class="t" x1="272.58" y1="177.00" x2="272.58" y2="180.30"/>
<line class="t" x1="280.56" y1="336.30" x2="280.56" y2="333.00"/>
<line class="t" x1="280.56" y1="177.00" x2="280.56" y2="180.30"/>
<line class="t" x1="288.55" y1="336.30" x2="288.55" y2="329.80"/>
<line class="t" x1="288.55" y1="177.00" x2="288.55" y2="183.50"/>
<line class="t" x1="296.53" y1="336.30" x2="296.53" y2="333.00"/>
<line class="t" x1="296.53" y1="177.00" x2="296.53" y2="180.30"/>
<line class="t" x1="304.52" y1="336.30" x2="304.52" y2="333.00"/>
<line class="t" x1="304.52" y1="177.00" x2="304.52" y2="180.30"/>
<line class="t" x1="312.50" y1="336.30" x2="312.50" y2="333.00"/>
<line class="t" x1="312.50" y1="177.00" x2="312.50" y2="180.30"/>
<line class="t" x1="320.49" y1="336.30" x2="320.49" y2="333.00"/>
<line class="t" x1="320.49" y1="177.00" x2="320.49" y2="180.30"/>
<line class="t" x1="328.47" y1="336.30" x2="328.47" y2="329.80"/>
<line class="t" x1="328.47" y1="177.00" x2="328.47" y2="183.50"/>
<line class="t" x1="336.46" y1="336.30" x2="336.46" y2="333.00"/>
<line class="t" x1="336.46" y1="177.00" x2="336.46" y2="180.30"/>
<line class="t" x1="344.44" y1="336.30" x2="344.44" y2="333.00"/>
<line class="t" x1="344.44" y1="177.00" x2="344.44" y2="180.30"/>
<line class="t" x1="352.43" y1="336.30" x2="352.43" y2="333.00"/>
<line class="t" x1="352.43" y1="177.00" x2="352.43" y2="180.30"/>
<line class="t" x1="360.41" y1="336.30" x2="360.41" y2="333.00"/>
<line class="t" x1="360.41" y1="177.00" x2="360.41" y2="180.30"/>
<line class="t" x1="368.40" y1="336.30" x2="368.40" y2="329.80"/>
<line class="t" x1="368.40" y1="177.00" x2="368.40" y2="183.50"/>
<line class="t" x1="208.70" y1="336.30" x2="215.20" y2="336.30"/>
<line class="t" x1="368.40" y1="336.30" x2="361.90" y2="336.30"/>
<line class="t" x1="208.70" y1="320.32" x2="212.00" y2="320.32"/>
<line class="t" x1="368.40" y1="320.32" x2="365.10" y2="320.32"/>
<line class="t" x1="208.70" y1="310.96" x2="212.00" y2="310.96"/>
<line class="t" x1="368.40" y1="310.96" x2="365.10" y2="310.96"/>
<line class="t" x1="208.70" y1="304.33" x2="212.00" y2="304.33"/>
<line class="t" x1="368.40" y1="304.33" x2="365.10" y2="304.33"/>
<line class="t" x1="208.70" y1="299.18" x2="212.00" y2="299.18"/>
<line class="t" x1="368.40" y1="299.18" x2="365.10" y2="299.18"/>
<line class="t" x1="208.70" y1="294.98" x2="212.00" y2="294.98"/>
<line class="t" x1="368.40" y1="294.98" x2="365.10" y2="294.98"/>
<line class="t" x1="208.70" y1="291.43" x2="212.00" y2="291.43"/>
<line class="t" x1="368.40" y1="291.43" x2="365.10" y2="291.43"/>
<line class="t" x1="208.70" y1="288.35" x2="212.00" y2="288.35"/>
<line class="t" x1="368.40" y1="288.35" x2="365.10" y2="288.35"/>
<line class="t" x1="208.70" y1="285.63" x2="212.00" y2="285.63"/>
<line class="t" x1="368.40" y1="285.63" x2="365.10" y2="285.63"/>
<line class="t" x1="208.70" y1="283.20" x2="215.20" y2="283.20"/>
<line class="t" x1="368.40" y1="283.20" x2="361.90" y2="283.20"/>
<line class="t" x1="208.70" y1="267.22" x2="212.00" y2="267.22"/>
<line class="t" x1="368.40" y1="267.22" x2="365.10" y2="267.22"/>
<line class="t" x1="208.70" y1="257.86" x2="212.00" y2="257.86"/>
<line class="t" x1="368.40" y1="257.86" x2="365.10" y2="257.86"/>
<line class="t" x1="208.70" y1="251.23" x2="212.00" y2="251.23"/>
<line class="t" x1="368.40" y1="251.23" x2="365.10" y2="251.23"/>
<line class="t" x1="208.70" y1="246.08" x2="212.00" y2="246.08"/>
<line class="t" x1="368.40" y1="246.08" x2="365.10" y2="246.08"/>
<line class="t" x1="208.70" y1="241.88" x2="212.00" y2="241.88"/>
<line class="t" x1="368.40" y1="241.88" x2="365.10" y2="241.88"/>
<line class="t" x1="208.70" y1="238.33" x2="212.00" y2="238.33"/>
<line class="t" x1="368.40" y1="238.33" x2="365.10" y2="238.33"/>
<line class="t" x1="208.70" y1="235.25" x2="212.00" y2="235.25"/>
<line class="t" x1="368.40" y1="235.25" x2="365.10" y2="235.25"/>
<line class="t" x1="208.70" y1="232.53" x2="212.00" y2="232.53"/>
<line class="t" x1="368.40" y1="232.53" x2="365.10" y2="232.53"/>
<line class="t" x1="208.70" y1="230.10" x2="215.20" y2="230.10"/>
<line class="t" x1="368.40" y1="230.10" x2="361.90" y2="230.10"/>
<line class="t" x1="208.70" y1="214.12" x2="212.00" y2="214.12"/>
<line class="t" x1="368.40" y1="214.12" x2="365.10" y2="214.12"/>
<line class="t" x1="208.70" y1="204.76" x2="212.00" y2="204.76"/>
<line class="t" x1="368.40" y1="204.76" x2="365.10" y2="204.76"/>
<line class="t" x1="208.70" y1="198.13" x2="212.00" y2="198.13"/>
<line class="t" x1="368.40" y1="198.13" x2="365.10" y2="198.13"/>
<line class="t" x1="208.70" y1="192.98" x2="212.00" y2="192.98"/>
<line class="t" x1="368.40" y1="192.98" x2="365.10" y2="192.98"/>
<line class="t" x1="208.70" y1="188.78" x2="212.00" y2="188.78"/>
<line class="t" x1="368.40" y1="188.78" x2="365.10" y2="188.78"/>
<line class="t" x1="208.70" y1="185.23" x2="212.00" y2="185.23"/>
<line class="t" x1="368.40" y1="185.23" x2="365.10" y2="185.23"/>
<line class="t" x1="208.70" y1="182.15" x2="212.00" y2="182.15"/>
<line class="t" x1="368.40" y1="182.15" x2="365.10" y2="182.15"/>
<line class="t" x1="208.70" y1="179.43" x2="212.00" y2="179.43"/>
<line class="t" x1="368.40" y1="179.43" x2="365.10" y2="179.43"/>
<line class="t" x1="208.70" y1="177.00" x2="215.20" y2="177.00"/>
<line class="t" x1="368.40" y1="177.00" x2="361.90" y2="177.00"/>
<line class="t" x1="380.60" y1="336.30" x2="380.60" y2="329.80"/>
<line class="t" x1="380.60" y1="177.00" x2="380.60" y2="183.50"/>
<line class="t" x1="396.62" y1="336.30" x2="396.62" y2="333.00"/>
<line class="t" x1="396.62" y1="177.00" x2="396.62" y2="180.30"/>
<line class="t" x1="406.00" y1="336.30" x2="406.00" y2="333.00"/>
<line class="t" x1="406.00" y1="177.00" x2="406.00" y2="180.30"/>
<line class="t" x1="412.65" y1="336.30" x2="412.65" y2="333.00"/>
<line class="t" x1="412.65" y1="177.00" x2="412.65" y2="180.30"/>
<line class="t" x1="417.81" y1="336.30" x2="417.81" y2="333.00"/>
<line class="t" x1="417.81" y1="177.00" x2="417.81" y2="180.30"/>
<line class="t" x1="422.02" y1="336.30" x2="422.02" y2="333.00"/>
<line class="t" x1="422.02" y1="177.00" x2="422.02" y2="180.30"/>
<line class="t" x1="425.59" y1="336.30" x2="425.59" y2="333.00"/>
<line class="t" x1="425.59" y1="177.00" x2="425.59" y2="180.30"/>
<line class="t" x1="428.67" y1="336.30" x2="428.67" y2="333.00"/>
<line class="t" x1="428.67" y1="177.00" x2="428.67" y2="180.30"/>
<line class="t" x1="431.40" y1="336.30" x2="431.40" y2="333.00"/>
<line class="t" x1="431.40" y1="177.00" x2="431.40" y2="180.30"/>
<line class="t" x1="433.83" y1="336.30" x2="433.83" y2="329.80"/>
<line class="t" x1="433.83" y1="177.00" x2="433.83" y2="183.50"/>
<line class="t" x1="449.86" y1="336.30" x2="449.86" y2="333.00"/>
<line class="t" x1="449.86" y1="177.00" x2="449.86" y2="180.30"/>
<line class="t" x1="459.23" y1="336.30" x2="459.23" y2="333.00"/>
<line class="t" x1="459.23" y1="177.00" x2="459.23" y2="180.30"/>
<line class="t" x1="465.88" y1="336.30" x2="465.88" y2="333.00"/>
<line class="t" x1="465.88" y1="177.00" x2="465.88" y2="180.30"/>
<line class="t" x1="471.04" y1="336.30" x2="471.04" y2="333.00"/>
<line class="t" x1="471.04" y1="177.00" x2="471.04" y2="180.30"/>
<line class="t" x1="475.26" y1="336.30" x2="475.26" y2="333.00"/>
<line class="t" x1="475.26" y1="177.00" x2="475.26" y2="180.30"/>
<line class="t" x1="478.82" y1="336.30" x2="478.82" y2="333.00"/>
<line class="t" x1="478.82" y1="177.00" x2="478.82" y2="180.30"/>
<line class="t" x1="481.91" y1="336.30" x2="481.91" y2="333.00"/>
<line class="t" x1="481.91" y1="177.00" x2="481.91" y2="180.30"/>
<line class="t" x1="484.63" y1="336.30" x2="484.63" y2="333.00"/>
<line class="t" x1="484.63" y1="177.00" x2="484.63" y2="180.30"/>
<line class="t" x1="487.07" y1="336.30" x2="487.07" y2="329.80"/>
<line class="t" x1="487.07" y1="177.00" x2="487.07" y2="183.50"/>
<line class="t" x1="503.09" y1="336.30" x2="503.09" y2="333.00"/>
<line class="t" x1="503.09" y1="177.00" x2="503.09" y2="180.30"/>
<line class="t" x1="512.47" y1="336.30" x2="512.47" y2="333.00"/>
<line class="t" x1="512.47" y1="177.00" x2="512.47" y2="180.30"/>
<line class="t" x1="519.12" y1="336.30" x2="519.12" y2="333.00"/>
<line class="t" x1="519.12" y1="177.00" x2="519.12" y2="180.30"/>
<line class="t" x1="524.28" y1="336.30" x2="524.28" y2="333.00"/>
<line class="t" x1="524.28" y1="177.00" x2="524.28" y2="180.30"/>
<line class="t" x1="528.49" y1="336.30" x2="528.49" y2="333.00"/>
<line class="t" x1="528.49" y1="177.00" x2="528.49" y2="180.30"/>
<line class="t" x1="532.05" y1="336.30" x2="532.05" y2="333.00"/>
<line class="t" x1="532.05" y1="177.00" x2="532.05" y2="180.30"/>
<line class="t" x1="535.14" y1="336.30" x2="535.14" y2="333.00"/>
<line class="t" x1="535.14" y1="177.00" x2="535.14" y2="180.30"/>
<line class="t" x1="537.86" y1="336.30" x2="537.86" y2="333.00"/>
<line class="t" x1="537.86" y1="177.00" x2="537.86" y2="180.30"/>
<line class="t" x1="540.30" y1="336.30" x2="540.30" y2="329.80"/>
<line class="t" x1="540.30" y1="177.00" x2="540.30" y2="183.50"/>
<line class="t" x1="380.60" y1="336.30" x2="387.10" y2="336.30"/>
<line class="t" x1="540.30" y1="336.30" x2="533.80" y2="336.30"/>
<line class="t" x1="380.60" y1="320.32" x2="383.90" y2="320.32"/>
<line class="t" x1="540.30" y1="320.32" x2="537.00" y2="320.32"/>
<line class="t" x1="380.60" y1="310.96" x2="383.90" y2="310.96"/>
<line class="t" x1="540.30" y1="310.96" x2="537.00" y2="310.96"/>
<line class="t" x1="380.60" y1="304.33" x2="383.90" y2="304.33"/>
<line class="t" x1="540.30" y1="304.33" x2="537.00" y2="304.33"/>
<line class="t" x1="380.60" y1="299.18" x2="383.90" y2="299.18"/>
<line class="t" x1="540.30" y1="299.18" x2="537.00" y2="299.18"/>
<line class="t" x1="380.60" y1="294.98" x2="383.90" y2="294.98"/>
<line class="t" x1="540.30" y1="294.98" x2="537.00" y2="294.98"/>
<line class="t" x1="380.60" y1="291.43" x2="383.90" y2="291.43"/>
<line class="t" x1="540.30" y1="291.43" x2="537.00" y2="291.43"/>
<line class="t" x1="380.60" y1="288.35" x2="383.90" y2="288.35"/>
<line class="t" x1="540.30" y1="288.35" x2="537.00" y2="288.35"/>
<line class="t" x1="380.60" y1="285.63" x2="383.90" y2="285.63"/>
<line class="t" x1="540.30" y1="285.63" x2="537.00" y2="285.63"/>
<line class="t" x1="380.60" y1="283.20" x2="387.10" y2="283.20"/>
<line class="t" x1="540.30" y1="283.20" x2="533.80" y2="283.20"/>
<line class="t" x1="380.60" y1="267.22" x2="383.90" y2="267.22"/>
<line class="t" x1="540.30" y1="267.22" x2="537.00" y2="267.22"/>
<line class="t" x1="380.60" y1="257.86" x2="383.90" y2="257.86"/>
<line class="t" x1="540.30" y1="257.86" x2="537.00" y2="257.86"/>
<line class="t" x1="380.60" y1="251.23" x2="383.90" y2="251.23"/>
<line class="t" x1="540.30" y1="251.23" x2="537.00" y2="251.23"/>
<line class="t" x1="380.60" y1="246.08" x2="383.90" y2="246.08"/>
<line class="t" x1="540.30" y1="246.08" x2="537.00" y2="246.08"/>
<line class="t" x1="380.60" y1="241.88" x2="383.90" y2="241.88"/>
<line class="t" x1="540.30" y1="241.88" x2="537.00" y2="241.88"/>
<line class="t" x1="380.60" y1="238.33" x2="383.90" y2="238.33"/>
<line class="t" x1="540.30" y1="238.33" x2="537.00" y2="238.33"/>
<line class="t" x1="380.60" y1="235.25" x2="383.90" y2="235.25"/>
<line class="t" x1="540.30" y1="235.25" x2="537.00" y2="235.25"/>
<line class="t" x1="380.60" y1="232.53" x2="383.90" y2="232.53"/>
<line class="t" x1="540.30" y1="232.53" x2="537.00" y2="232.53"/>
<line class="t" x1="380.60" y1="230.10" x2="387.10" y2="230.10"/>
<line class="t" x1="540.30" y1="230.10" x2="533.80" y2="230.10"/>
<line class="t" x1="380.60" y1="214.12" x2="383.90" y2="214.12"/>
<line class="t" x1="540.30" y1="214.12" x2="537.00" y2="214.12"/>
<line class="t" x1="380.60" y1="204.76" x2="383.90" y2="204.76"/>
<line class="t" x1="540.30" y1="204.76" x2="537.00" y2="204.76"/>
<line class="t" x1="380.60" y1="198.13" x2="383.90" y2="198.13"/>
<line class="t" x1="540.30" y1="198.13" x2="537.00" y2="198.13"/>
<line class="t" x1="380.60" y1="192.98" x2="383.90" y2="192.98"/>
<line class="t" x1="540.30" y1="192.98" x2="537.00" y2="192.98"/>
<line class="t" x1="380.60" y1="188.78" x2="383.90" y2="188.78"/>
<line class="t" x1="540.30" y1="188.78" x2="537.00" y2="188.78"/>
<line class="t" x1="380.60" y1="185.23" x2="383.90" y2="185.23"/>
<line class="t" x1="540.30" y1="185.23" x2="537.00" y2="185.23"/>
<line class="t" x1="380.60" y1="182.15" x2="383.90" y2="182.15"/>
<line class="t" x1="540.30" y1="182.15" x2="537.00" y2="182.15"/>
<line class="t" x1="380.60" y1="179.43" x2="383.90" y2="179.43"/>
<line class="t" x1="540.30" y1="179.43" x2="537.00" y2="179.43"/>
<line class="t" x1="380.60" y1="177.00" x2="387.10" y2="177.00"/>
<line class="t" x1="540.30" y1="177.00" x2="533.80" y2="177.00"/>
<text class="l" transform="translate(33.20,8.00) scale(1,1.12)" text-anchor="end" >20</text>
<text class="l" transform="translate(33.20,47.88) scale(1,1.12)" text-anchor="end" >15</text>
<text class="l" transform="translate(33.20,87.75) scale(1,1.12)" text-anchor="end" >10</text>
<text class="l" transform="translate(33.20,127.63) scale(1,1.12)" text-anchor="end" >5</text>
<text class="l" transform="translate(32.80,169.30) scale(1,1.12)" text-anchor="end" >0</text>
<text class="l" transform="translate(30.30,180.00) scale(1,1.12)" text-anchor="start" >10</text>
<text class="e" transform="translate(40.30,175.00) scale(1,1.12)" text-anchor="start" >-5</text>
<text class="l" transform="translate(83.60,180.00) scale(1,1.12)" text-anchor="start" >10</text>
<text class="e" transform="translate(93.60,175.00) scale(1,1.12)" text-anchor="start" >-4</text>
<text class="l" transform="translate(136.60,180.00) scale(1,1.12)" text-anchor="start" >10</text>
<text class="e" transform="translate(146.60,175.00) scale(1,1.12)" text-anchor="start" >-3</text>
<text class="l" transform="translate(188.70,180.00) scale(1,1.12)" text-anchor="start" >10</text>
<text class="e" transform="translate(198.70,175.00) scale(1,1.12)" text-anchor="start" >-2</text>
<text class="l" transform="translate(373.60,351.90) scale(1,1.12)" text-anchor="start" >10</text>
<text class="e" transform="translate(383.60,346.90) scale(1,1.12)" text-anchor="start" >-3</text>
<text class="l" transform="translate(426.83,351.90) scale(1,1.12)" text-anchor="start" >10</text>
<text class="e" transform="translate(436.83,346.90) scale(1,1.12)" text-anchor="start" >-2</text>
<text class="l" transform="translate(480.07,351.90) scale(1,1.12)" text-anchor="start" >10</text>
<text class="e" transform="translate(490.07,346.90) scale(1,1.12)" text-anchor="start" >-1</text>
<text class="l" transform="translate(533.30,351.90) scale(1,1.12)" text-anchor="start" >10</text>
<text class="e" transform="translate(543.30,346.90) scale(1,1.12)" text-anchor="start" >0</text>
<text class="l" transform="translate(189.50,342.10) scale(1,1.12)" text-anchor="start" >10</text>
<text class="e" transform="translate(199.50,337.10) scale(1,1.12)" text-anchor="start" >-5</text>
<text class="l" transform="translate(189.50,289.00) scale(1,1.12)" text-anchor="start" >10</text>
<text class="e" transform="translate(199.50,284.00) scale(1,1.12)" text-anchor="start" >-4</text>
<text class="l" transform="translate(189.50,235.90) scale(1,1.12)" text-anchor="start" >10</text>
<text class="e" transform="translate(199.50,230.90) scale(1,1.12)" text-anchor="start" >-3</text>
<text class="l" transform="translate(209.00,348.00) scale(1,1.12)" text-anchor="middle" >0</text>
<text class="l" transform="translate(248.93,348.00) scale(1,1.12)" text-anchor="middle" >0.25</text>
<text class="l" transform="translate(288.85,348.00) scale(1,1.12)" text-anchor="middle" >0.5</text>
<text class="l" transform="translate(328.77,348.00) scale(1,1.12)" text-anchor="middle" >0.75</text>
<text class="l" transform="translate(368.70,348.00) scale(1,1.12)" text-anchor="middle" >1</text>
<text class="g" x="519.70" y="91.00" text-anchor="start" >3σ</text>
<text class="g" x="519.70" y="130.90" text-anchor="start" >2σ</text>
<g transform="translate(55.1,201.5)">
<text x="0.00" y="0.00" fill="#1a1a1a" font-size="11.5">{</text>
<text x="4.40" y="0.00" fill="#ff0000" font-size="11.5">Δm</text>
<text x="22.00" y="-7.30" fill="#ff0000" font-size="8.6">2</text>
<text x="21.80" y="4.60" fill="#ff0000" font-size="8.6">21</text>
<text x="31.90" y="0.00" fill="#1a1a1a" font-size="11.5">,</text>
<text x="38.60" y="0.00" fill="#0000ff" font-size="11.5">Δm</text>
<text x="56.20" y="-7.30" fill="#0000ff" font-size="8.6">2</text>
<text x="56.00" y="4.60" fill="#0000ff" font-size="8.6">31</text>
<text x="65.60" y="0.00" fill="#1a1a1a" font-size="11.5">}</text>
<text x="73.60" y="0.00" fill="#1a1a1a" font-size="11.5">[eV</text>
<text x="92.40" y="-7.30" fill="#1a1a1a" font-size="8.6">2</text>
<text x="97.00" y="0.00" fill="#1a1a1a" font-size="11.5">]</text>
</g>
<g transform="translate(177.4,318.7) rotate(-90)">
<text x="0.00" y="0.00" fill="#1a1a1a" font-size="11.5">{</text>
<text x="4.40" y="0.00" fill="#ff0000" font-size="11.5">Δm</text>
<text x="22.00" y="-7.30" fill="#ff0000" font-size="8.6">2</text>
<text x="21.80" y="4.60" fill="#ff0000" font-size="8.6">21</text>
<text x="31.90" y="0.00" fill="#1a1a1a" font-size="11.5">,</text>
<text x="38.60" y="0.00" fill="#0000ff" font-size="11.5">Δm</text>
<text x="56.20" y="-7.30" fill="#0000ff" font-size="8.6">2</text>
<text x="56.00" y="4.60" fill="#0000ff" font-size="8.6">31</text>
<text x="65.60" y="0.00" fill="#1a1a1a" font-size="11.5">}</text>
<text x="73.60" y="0.00" fill="#1a1a1a" font-size="11.5">[eV</text>
<text x="92.40" y="-7.30" fill="#1a1a1a" font-size="8.6">2</text>
<text x="97.00" y="0.00" fill="#1a1a1a" font-size="11.5">]</text>
</g>
<g transform="translate(245.6,369.6)">
<text x="0.00" y="0.00" fill="#1a1a1a" font-size="11.5">{</text>
<text x="3.90" y="0.00" fill="#ff0000" font-size="11.5">sin</text>
<text x="19.00" y="-6.90" fill="#ff0000" font-size="8.6">2</text>
<text x="24.40" y="0.00" fill="#ff0000" font-size="11.5">θ</text>
<text x="30.90" y="4.20" fill="#ff0000" font-size="8.6">12</text>
<text x="40.30" y="0.00" fill="#1a1a1a" font-size="11.5">,</text>
<text x="47.30" y="0.00" fill="#0000ff" font-size="11.5">sin</text>
<text x="62.30" y="-6.90" fill="#0000ff" font-size="8.6">2</text>
<text x="67.80" y="0.00" fill="#0000ff" font-size="11.5">θ</text>
<text x="74.20" y="4.20" fill="#0000ff" font-size="8.6">23</text>
<text x="83.80" y="0.00" fill="#1a1a1a" font-size="11.5">}</text>
</g>
<g transform="translate(442.6,368.6)" fill="#9400d3"><text x="0" y="0" font-size="11.5">sin</text><text x="15.1" y="-6.9" font-size="8.6">2</text><text x="20.5" y="0" font-size="11.5">θ</text><text x="27.0" y="4.2" font-size="8.6">13</text></g>
<g transform="translate(15.3,93.6) rotate(-90)" fill="#1a1a1a"><text x="0" y="0" font-size="11.5">Δ</text><text x="7.2" y="-1.1" font-size="12.6">χ</text><text x="13.9" y="-8.2" font-size="8.6">2</text></g>
</svg>
</body></html>
